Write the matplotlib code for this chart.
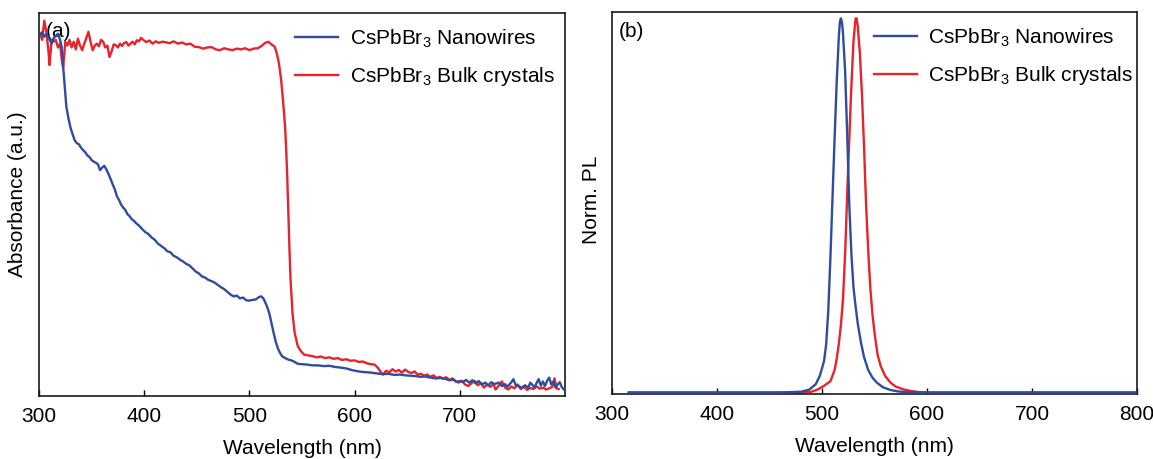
import matplotlib
matplotlib.use("Agg")
import matplotlib.pyplot as plt

plt.rcParams['font.family'] = ['Liberation Sans', 'DejaVu Sans']
plt.rcParams['mathtext.default'] = 'regular'

# ---------------- Panel (a): absorbance (normalised, a.u.) ----------------
abs_bulk_wl = [301, 303, 305, 307, 309, 310, 312, 314, 316, 318, 320, 322, 323, 325, 327, 329,
               331, 333, 335, 337, 339, 341, 343, 345, 347, 349, 351, 353, 355, 357, 359, 361,
               363, 365, 367, 369, 371, 373, 375, 377, 379, 381, 383, 385, 387, 389, 391, 393,
               395, 397, 399, 402, 405, 408, 411, 414, 417, 420, 424, 428, 432, 436, 440, 444,
               448, 452, 456, 460, 464, 468, 472, 476, 480, 484, 488, 492, 496, 500, 504, 508,
               512, 515, 518, 521, 524, 526, 528, 530, 532, 534, 535, 536, 537, 538, 539, 540,
               541, 543, 546, 549, 552, 556, 560, 564, 568, 572, 576, 580, 584, 588, 592, 596,
               600, 604, 608, 612, 616, 619, 622, 625, 627, 630, 633, 636, 639, 642, 645, 648,
               651, 654, 657, 660, 663, 666, 669, 672, 675, 678, 681, 684, 687, 690, 693, 696,
               699, 702, 705, 708, 711, 714, 717, 720, 723, 726, 729, 732, 734, 737, 740, 743,
               746, 749, 752, 755, 758, 761, 764, 767, 770, 773, 776, 779, 782, 785, 788, 790,
               792, 794]
abs_bulk = [0.945, 0.930, 0.980, 0.950, 0.900, 0.864, 0.930, 0.925, 0.930, 0.910, 0.920, 0.870,
            0.859, 0.925, 0.915, 0.930, 0.910, 0.925, 0.905, 0.933, 0.915, 0.903, 0.920, 0.935,
            0.951, 0.925, 0.903, 0.915, 0.920, 0.913, 0.930, 0.925, 0.910, 0.915, 0.885, 0.900,
            0.918, 0.916, 0.910, 0.920, 0.914, 0.922, 0.924, 0.915, 0.920, 0.925, 0.918, 0.929,
            0.926, 0.935, 0.930, 0.924, 0.928, 0.920, 0.926, 0.922, 0.925, 0.924, 0.921, 0.926,
            0.920, 0.923, 0.918, 0.920, 0.912, 0.911, 0.907, 0.910, 0.911, 0.905, 0.903, 0.908,
            0.905, 0.903, 0.907, 0.905, 0.908, 0.903, 0.907, 0.908, 0.915, 0.922, 0.925, 0.918,
            0.912, 0.895, 0.870, 0.830, 0.770, 0.700, 0.640, 0.570, 0.480, 0.390, 0.310, 0.260,
            0.215, 0.165, 0.130, 0.117, 0.108, 0.106, 0.104, 0.101, 0.103, 0.099, 0.101, 0.097,
            0.099, 0.094, 0.096, 0.092, 0.093, 0.089, 0.090, 0.085, 0.083, 0.082, 0.074, 0.062,
            0.056, 0.066, 0.062, 0.070, 0.064, 0.068, 0.061, 0.069, 0.063, 0.060, 0.064, 0.056,
            0.058, 0.053, 0.056, 0.050, 0.054, 0.047, 0.050, 0.045, 0.049, 0.042, 0.046, 0.038,
            0.035, 0.040, 0.030, 0.026, 0.033, 0.040, 0.028, 0.034, 0.022, 0.030, 0.024, 0.031,
            0.017, 0.027, 0.038, 0.022, 0.017, 0.025, 0.020, 0.030, 0.018, 0.024, 0.016, 0.021,
            0.018, 0.025, 0.019, 0.022, 0.017, 0.020, 0.024, 0.046, 0.020, 0.018]

abs_nw_wl = [301, 303, 305, 307, 309, 311, 312, 314, 316, 318, 320, 321.5, 323, 324.5, 326, 328,
             330, 332, 334, 336, 338, 340, 342, 344, 346, 348, 350, 352, 354, 356, 358, 360,
             362, 364, 366, 368, 370, 372, 374, 376, 378, 380, 382, 384, 386, 388, 390, 392,
             395, 398, 401, 404, 407, 410, 413, 416, 419, 422, 425, 428, 431, 434, 437, 440,
             443, 446, 449, 452, 455, 458, 461, 464, 467, 470, 473, 476, 479, 482, 485, 488,
             491, 494, 497, 500, 503, 506, 509, 511, 513, 515, 517, 519, 521, 523, 525, 527,
             529, 531, 534, 537, 540, 543, 546, 550, 555, 560, 565, 571, 576, 581, 587, 592,
             597, 602, 607, 612, 616, 621, 627, 632, 638, 643, 648, 653, 658, 663, 667, 672,
             677, 682, 686, 690, 694, 697, 700, 703, 706, 709, 712, 715, 718, 721, 724, 727,
             730, 733, 737, 740, 743, 745, 747, 749, 751, 753, 756, 759, 762, 765, 767, 769,
             771, 773, 775, 777, 779, 781, 783, 785, 787, 789, 791, 793, 795, 797, 799]
abs_nw = [0.944, 0.950, 0.938, 0.945, 0.936, 0.925, 0.920, 0.935, 0.940, 0.946, 0.930, 0.911,
          0.859, 0.807, 0.755, 0.725, 0.700, 0.683, 0.667, 0.660, 0.657, 0.648, 0.642, 0.636,
          0.628, 0.624, 0.616, 0.612, 0.609, 0.605, 0.590, 0.596, 0.601, 0.592, 0.580, 0.567,
          0.553, 0.540, 0.522, 0.512, 0.500, 0.492, 0.486, 0.475, 0.470, 0.462, 0.458, 0.452,
          0.445, 0.436, 0.428, 0.423, 0.414, 0.408, 0.398, 0.392, 0.386, 0.378, 0.375, 0.366,
          0.362, 0.356, 0.351, 0.345, 0.341, 0.333, 0.325, 0.320, 0.312, 0.309, 0.303, 0.300,
          0.296, 0.290, 0.284, 0.279, 0.272, 0.265, 0.260, 0.262, 0.255, 0.257, 0.250, 0.249,
          0.251, 0.252, 0.258, 0.260, 0.256, 0.245, 0.232, 0.215, 0.190, 0.165, 0.142, 0.125,
          0.113, 0.104, 0.099, 0.095, 0.093, 0.089, 0.084, 0.083, 0.082, 0.080, 0.080, 0.078,
          0.079, 0.076, 0.074, 0.072, 0.068, 0.065, 0.063, 0.062, 0.061, 0.059, 0.057, 0.058,
          0.055, 0.056, 0.054, 0.053, 0.052, 0.050, 0.051, 0.048, 0.046, 0.047, 0.045, 0.041,
          0.043, 0.037, 0.039, 0.036, 0.042, 0.035, 0.041, 0.033, 0.039, 0.030, 0.035, 0.028,
          0.036, 0.031, 0.035, 0.026, 0.031, 0.024, 0.030, 0.036, 0.044, 0.029, 0.025, 0.022,
          0.028, 0.022, 0.035, 0.029, 0.022, 0.034, 0.044, 0.027, 0.038, 0.026, 0.040, 0.048,
          0.030, 0.038, 0.022, 0.030, 0.036, 0.023, 0.017]

# ---------------- Panel (b): normalised PL ----------------
pl_nw_wl = [316, 400, 460, 480, 488, 494, 498, 502, 504, 506, 508, 510, 512, 514, 516, 517,
            518, 519, 520, 522, 524, 526, 528, 530, 532, 534, 537, 540, 544, 548, 552, 558,
            565, 572, 580, 600, 700, 800]
pl_nw = [0.0, 0.0, 0.0, 0.002, 0.008, 0.022, 0.045, 0.085, 0.13, 0.22, 0.36, 0.52, 0.68, 0.83,
         0.95, 0.99, 1.0, 0.99, 0.96, 0.86, 0.69, 0.50, 0.37, 0.28, 0.23, 0.185, 0.135, 0.095,
         0.06, 0.04, 0.027, 0.014, 0.007, 0.003, 0.001, 0.0, 0.0, 0.0]

pl_bulk_wl = [316, 400, 480, 490, 496, 502, 508, 512, 514, 516, 518, 520, 522, 524, 526, 528,
              530, 532, 533, 534, 536, 538, 540, 542, 544, 546, 548, 550, 553, 556, 560, 565,
              570, 578, 585, 592, 600, 700, 800]
pl_bulk = [0.0, 0.0, 0.0, 0.002, 0.008, 0.018, 0.03, 0.06, 0.09, 0.13, 0.18, 0.25, 0.37, 0.53,
           0.68, 0.82, 0.94, 1.0, 1.0, 0.98, 0.91, 0.80, 0.66, 0.50, 0.38, 0.28, 0.21, 0.16,
           0.10, 0.07, 0.045, 0.027, 0.016, 0.008, 0.004, 0.001, 0.0, 0.0, 0.0]

labels = [r'CsPbBr$_3$ Nanowires', r'CsPbBr$_3$ Bulk crystals']
xticks_a = [300, 400, 500, 600, 700]
xticks_b = [300, 400, 500, 600, 700, 800]

BLUE = '#2f4c9e'
RED = '#e5242b'
FS = 15
LW = 1.7

fig = plt.figure(figsize=(11.53, 4.59), dpi=100)
W, H = 1153, 459
ax_a = fig.add_axes([39 / W, 1 - 396 / H, (565 - 39) / W, (396 - 13) / H])
ax_b = fig.add_axes([612 / W, 1 - 394 / H, (1137 - 612) / W, (394 - 12) / H])

for ax in (ax_a, ax_b):
    for s in ax.spines.values():
        s.set_linewidth(1.2)
        s.set_color('#1a1a1a')
    ax.tick_params(axis='x', direction='in', length=4, width=1, labelsize=FS, pad=8,
                   top=False)
    ax.tick_params(axis='y', left=False, labelleft=False)

# (a)
ax_a.text(0.012, 0.952, '(a)', transform=ax_a.transAxes, fontsize=FS, va='center',
          ha='left', zorder=1)
hb_a, = ax_a.plot(abs_bulk_wl, abs_bulk, color=RED, lw=LW, zorder=2)
hn_a, = ax_a.plot(abs_nw_wl, abs_nw, color=BLUE, lw=LW, zorder=3)
ax_a.set_xlim(300, 800)
ax_a.set_ylim(0, 1)
ax_a.set_xticks(xticks_a)
ax_a.set_xlabel('Wavelength (nm)', fontsize=FS, labelpad=9)
ax_a.set_ylabel('Absorbance (a.u.)', fontsize=FS)
ax_a.yaxis.set_label_coords(-0.022, 0.527)
ax_a.legend([hn_a, hb_a], labels, loc='upper left', bbox_to_anchor=(0.487, 0.962),
            frameon=False, fontsize=FS, handlelength=2.05, handletextpad=0.6,
            labelspacing=0.75, borderpad=0, borderaxespad=0)

# (b)
ax_b.text(0.013, 0.948, '(b)', transform=ax_b.transAxes, fontsize=FS, va='center',
          ha='left')
hb_b, = ax_b.plot(pl_bulk_wl, pl_bulk, color=RED, lw=LW, zorder=2)
hn_b, = ax_b.plot(pl_nw_wl, pl_nw, color=BLUE, lw=LW, zorder=3)
ax_b.set_xlim(300, 800)
ax_b.set_ylim(-0.004, 1.017)
ax_b.set_xticks(xticks_b)
ax_b.set_xlabel('Wavelength (nm)', fontsize=FS, labelpad=9)
ax_b.set_ylabel('Norm. PL', fontsize=FS)
ax_b.yaxis.set_label_coords(-0.021, 0.508)
ax_b.legend([hn_b, hb_b], labels, loc='upper left', bbox_to_anchor=(0.50, 0.962),
            frameon=False, fontsize=FS, handlelength=2.05, handletextpad=0.5,
            labelspacing=0.75, borderpad=0, borderaxespad=0)

fig.savefig('out.png', dpi=100)
